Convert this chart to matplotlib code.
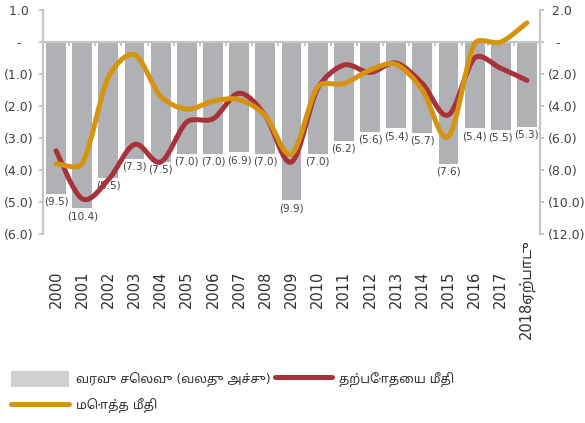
import matplotlib
matplotlib.use('Agg')
import matplotlib.pyplot as plt
import matplotlib.transforms as mtransforms
from matplotlib.path import Path
from matplotlib.patches import PathPatch, Patch
from matplotlib.lines import Line2D
from matplotlib import font_manager
import numpy as np

# ---------------- data ----------------
years = [str(y) for y in range(2000, 2018)] + ['2018ஏற்பாடு']
budget_balance = [-9.5, -10.4, -8.5, -7.3, -7.5, -7.0, -7.0, -6.9, -7.0, -9.9,
                  -7.0, -6.2, -5.6, -5.4, -5.7, -7.6, -5.4, -5.5, -5.3]
current_balance = [-3.4, -4.9, -4.3, -3.2, -3.75, -2.5, -2.4, -1.6, -2.3, -3.75,
                   -1.45, -0.72, -0.95, -0.66, -1.3, -2.28, -0.5, -0.82, -1.2]
overall_balance = [-3.8, -3.8, -1.1, -0.4, -1.7, -2.1, -1.85, -1.8, -2.3, -3.5,
                   -1.4, -1.3, -0.88, -0.7, -1.5, -2.95, -0.05, 0.0, 0.6]
label_budget = 'வரவு செலவு (வலது அச்சு)'
label_current = 'தற்போதைய மீதி'
label_overall = 'மொத்த மீதி'
left_ticks = [1.0, 0.0, -1.0, -2.0, -3.0, -4.0, -5.0, -6.0]
right_ticks = [2.0, 0.0, -2.0, -4.0, -6.0, -8.0, -10.0, -12.0]

# ---------------- fonts ----------------
avail = {f.name for f in font_manager.fontManager.ttflist}
tamil_candidates = ['Noto Sans Tamil', 'Noto Sans Tamil UI', 'Noto Serif Tamil',
                    'Lohit Tamil', 'Latha', 'Nirmala UI', 'FreeSans', 'FreeSerif']
families = ['DejaVu Sans'] + [f for f in tamil_candidates if f in avail]
plt.rcParams['font.family'] = families

GRAY_AX = '#c6c6c6'
TXT = '#404040'
BAR = '#b0b1b4'
RED = '#a9323a'
GOLD = '#d4940f'

fig = plt.figure(figsize=(5.85, 4.23), dpi=100)
ax = fig.add_axes([43/585, 1-234/423, (540-43)/585, (234-10)/423])
ax2 = ax.twinx()
ax.set_zorder(ax2.get_zorder() + 1)
ax.patch.set_visible(False)

x = np.arange(len(years))

# bars on right axis
bars = ax2.bar(x, budget_balance, width=0.76, color=BAR, zorder=2)
for xi, v in zip(x, budget_balance):
    ax2.annotate(f'({abs(v):.1f})', (xi, v), xytext=(0, -2), textcoords='offset points',
                 ha='center', va='top', fontsize=7.5, color=TXT)

ax.set_xlim(-0.5, len(years) - 0.5)
ax.set_ylim(-6, 1)
ax2.set_ylim(-12, 2)

# pixel scale of the data units (for smoothing in screen space)
SX = (540 - 43) / len(years)
SY = (234 - 10) / 7.0


def smooth_path(xs, ys):
    pts = np.column_stack([np.asarray(xs, float) * SX, np.asarray(ys, float) * SY])
    n = len(pts)
    verts = [pts[0]]
    codes = [Path.MOVETO]
    for i in range(n - 1):
        p0 = pts[i - 1] if i > 0 else pts[i]
        p1 = pts[i]
        p2 = pts[i + 1]
        p3 = pts[i + 2] if i + 2 < n else pts[i + 1]
        L = np.hypot(*(p2 - p1))
        t1 = (p2 - p0) / 6.0
        t2 = (p3 - p1) / 6.0
        m1 = np.hypot(*t1)
        m2 = np.hypot(*t2)
        if m1 > L / 3.0:
            t1 = t1 * (L / 3.0) / m1
        if m2 > L / 3.0:
            t2 = t2 * (L / 3.0) / m2
        verts += [p1 + t1, p2 - t2, p2]
        codes += [Path.CURVE4] * 3
    v = np.array(verts)
    v[:, 0] /= SX
    v[:, 1] /= SY
    return Path(v, codes)


for series, col in [(current_balance, RED), (overall_balance, GOLD)]:
    pp = PathPatch(smooth_path(x, series), fill=False, edgecolor=col, lw=3.6,
                   capstyle='round', joinstyle='round', transform=ax.transData, zorder=3)
    ax.add_patch(pp)


def fmt_left(v):
    if abs(v) < 1e-9:
        return '-   '
    if v < 0:
        return f'({-v:.1f})'
    return f'{v:.1f} '


def fmt_right(v):
    if abs(v) < 1e-9:
        return '  -'
    if v < 0:
        return f'({-v:.1f})'
    return f' {v:.1f}'


ax.set_yticks(left_ticks)
ax.set_yticklabels([fmt_left(v) for v in left_ticks])
ax2.set_yticks(right_ticks)
ax2.set_yticklabels([fmt_right(v) for v in right_ticks])

for a in (ax, ax2):
    for s in a.spines.values():
        s.set_visible(False)
ax.spines['left'].set_visible(True)
ax.spines['left'].set_color(GRAY_AX)
ax.spines['left'].set_linewidth(1.6)
ax2.spines['right'].set_visible(True)
ax2.spines['right'].set_color(GRAY_AX)
ax2.spines['right'].set_linewidth(1.6)
ax.spines['bottom'].set_visible(True)
ax.spines['bottom'].set_position(('data', 0))
ax.spines['bottom'].set_color(GRAY_AX)
ax.spines['bottom'].set_linewidth(1.6)
ax.spines['bottom'].set_zorder(1)

ax.set_xticks(np.arange(-0.5, len(years), 1.0))
ax.tick_params(axis='x', direction='out', length=3, width=1.4, color=GRAY_AX,
               labelbottom=False)
ax.tick_params(axis='y', direction='out', length=3, width=1.4, color=GRAY_AX,
               labelsize=9, labelcolor=TXT, pad=4)
ax2.tick_params(axis='y', direction='out', length=3, width=1.4, color=GRAY_AX,
                labelsize=9, labelcolor=TXT, pad=3)

# category labels below the plot
trans = mtransforms.blended_transform_factory(ax.transData, fig.transFigure)
for xi, lab in zip(x, years):
    ax.text(xi, 1 - 289/423, lab, transform=trans, rotation=90, ha='center',
            va='center', fontsize=10.5, color='#303030')

# legend
h_bar = Patch(facecolor='#d0d0d2', edgecolor='none')
h_red = Line2D([], [], color=RED, lw=3.6, solid_capstyle='round')
h_gold = Line2D([], [], color=GOLD, lw=3.6, solid_capstyle='round')
fig.legend(handles=[h_bar, h_gold, h_red], labels=[label_budget, label_overall, label_current],
           ncol=2, loc='upper left', bbox_to_anchor=(0.0, 1 - 360/423), frameon=False,
           fontsize=9, handlelength=4.6, handleheight=1.5, columnspacing=0.35,
           handletextpad=0.55, labelspacing=0.85, labelcolor='#303030')

fig.savefig('out.png', dpi=100)
